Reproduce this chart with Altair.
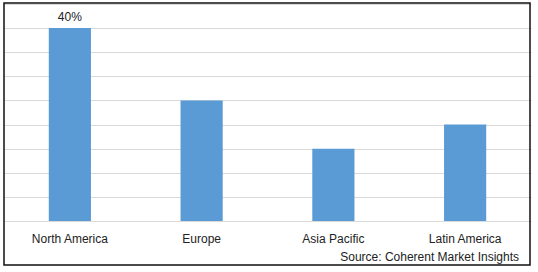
import altair as alt
import pandas as pd

regions = ["North America", "Europe", "Asia Pacific", "Latin America"]
shares = [40, 25, 15, 20]
labels = ["40%", "", "", ""]
grid_values = [0, 5, 10, 15, 20, 25, 30, 35, 40, 45]
source_text = "Source: Coherent Market Insights"

df = pd.DataFrame({"region": regions, "share": shares, "label": labels})

FONT = "Liberation Sans"

x_scale = alt.Scale(paddingInner=0.68, paddingOuter=0.34)
y_scale = alt.Scale(domain=[0, 45], nice=False)
x_axis = alt.Axis(title=None, labelAngle=0, domain=False, ticks=False,
                  labelPadding=12, labelFont=FONT, labelFontSize=12,
                  labelColor="#222222", grid=False)
y_axis = alt.Axis(title=None, labels=False, ticks=False, domain=False,
                  values=grid_values,
                  grid=True, gridColor="#d9d9d9", gridWidth=1)

x_enc = alt.X("region:N", sort=regions, scale=x_scale, axis=x_axis)
y_enc = alt.Y("share:Q", scale=y_scale, axis=y_axis)

base = alt.Chart(df)
bars = base.mark_bar(color="#5b9bd5").encode(x=x_enc, y=y_enc)
text = base.mark_text(dy=-7, baseline="alphabetic", font=FONT, fontSize=12,
                      color="#222222").encode(x=x_enc, y=y_enc, text="label:N")

border = alt.Chart(pd.DataFrame({"a": [0]})).mark_rect(
    fill=None, stroke="#111111", strokeWidth=1.5).encode(
    x=alt.value(0), x2=alt.value(526), y=alt.value(-1), y2=alt.value(261))

src = alt.Chart(pd.DataFrame({"t": [source_text]})).mark_text(
    align="right", baseline="alphabetic", font=FONT, fontSize=12,
    color="#222222").encode(x=alt.value(515), y=alt.value(257), text="t:N")

chart = alt.layer(bars, text, border, src).properties(
    width=527, height=217,
    autosize=alt.AutoSizeParams(type="none"),
    padding={"left": 4, "top": 4, "right": 7, "bottom": 51},
    background="white",
).configure_view(stroke=None)

chart.save("out.html", embed_options={"renderer": "svg", "actions": False})
